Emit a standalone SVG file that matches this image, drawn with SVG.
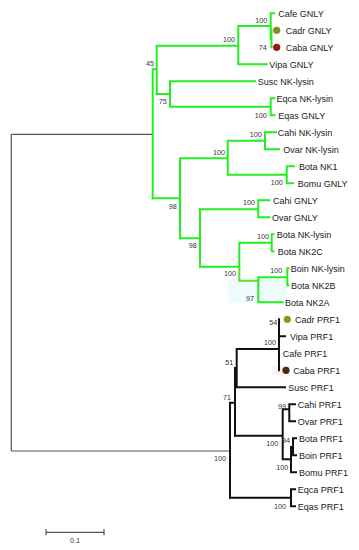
<svg xmlns="http://www.w3.org/2000/svg" width="359" height="550" viewBox="0 0 359 550">
<style>
.t{font-family:"Liberation Sans",Arial,sans-serif;font-size:9px;fill:#222}
.b{font-family:"Liberation Sans",Arial,sans-serif;font-size:7.2px;fill:#333;text-anchor:end}
.g{stroke:#22ee22;stroke-width:2;fill:none;stroke-linecap:square}
.k{stroke:#111;stroke-width:2;fill:none;stroke-linecap:square}
.r{stroke:#555;stroke-width:1.2;fill:none}
</style>
<rect width="359" height="550" fill="#fff"/>
<rect x="228" y="278" width="59" height="25" fill="#effcfc"/>
<rect x="272" y="366" width="18" height="9" fill="#fcf0f6"/>
<g id="connectors">
<path class="r" d="M11.3 134.3V451M11.3 134.3H152.7M11.3 451H230"/>
<path class="g" d="M152.7 69.3V198.3M152.7 69.3H156.7M156.7 45.7V94M156.7 45.7H238.3M238.3 26V64.3M238.3 26H270.7M270.7 13.3V38.8M271.5 30.3V47.3M270.7 13.3H274M238.3 64.3H266.7"/>
<path class="g" d="M156.7 94H170M170 81.3V106.8M170 81.3H255M170 106.8H270.7M270.7 98.3V115.3M270.7 98.3H274.5M270.7 115.3H274.5"/>
<path class="g" d="M152.7 198.3H180M180 158.3V238.3M180 158.3H227.7M227.7 140.8V174.8M227.7 140.8H265M265 132.3V149.3M265 132.3H276M265 149.3H279M227.7 174.8H286.7M286.7 166.3V183.3M286.7 166.3H294M286.7 183.3H293"/>
<path class="g" d="M180 238.3H200M200 209.3V266.7M200 209.3H258.3M258.3 200.3V217.3M258.3 200.3H269.3M258.3 217.3H269.3M200 266.7H239.3M239.3 242.7V268M239.3 242.7H271.7M271.7 234.3V251.3M271.7 234.3H273.5M271.7 251.3H273.5"/>
<path class="g" d="M239.3 268V280.7H258.3" style="stroke:#5ee02e"/>
<path class="g" d="M258.3 277.3V302.3M258.3 277.3H287.3M287.3 268.3V285.3M287.3 268.3H288.5M287.3 285.3H288.5M258.3 302.3H282.7"/>
<path class="k" d="M230 402.7V497.7M230 402.7H235M235 368V435.7M235 368H236.7M236.7 349V387.3M236.7 349H279M279 319.3V370.3M279 336.3H285M236.7 387.3H285"/>
<path class="k" d="M235 435.7H282.7M282.7 409.3V459.3M282.7 409.3H289.3M289.3 404.3V421.3M289.3 404.3H295M289.3 421.3H295M282.7 459.3H291M291 447V472.3M291 447H293M293 438.3V455.3M293 438.3H296M293 455.3H296M291 472.3H296"/>
<path class="k" d="M230 497.7H291M291 489.3V506.3M291 489.3H295M291 506.3H295"/>
</g>
<g id="support">
<text class="b" x="267.3" y="23.2">100</text>
<text class="b" x="266.7" y="49.8">74</text>
<text class="b" x="235" y="41.5">100</text>
<text class="b" x="154" y="65.8">45</text>
<text class="b" x="166.7" y="104.2">75</text>
<text class="b" x="266.7" y="117.5">100</text>
<text class="b" x="261.7" y="137.2">100</text>
<text class="b" x="225" y="154.5">100</text>
<text class="b" x="282.7" y="185.2">100</text>
<text class="b" x="176.7" y="208.5">98</text>
<text class="b" x="255" y="205.2">100</text>
<text class="b" x="196.7" y="248.2">98</text>
<text class="b" x="269" y="239.2">100</text>
<text class="b" x="236" y="275.8">100</text>
<text class="b" x="282.3" y="273.2">100</text>
<text class="b" x="254" y="300.8">97</text>
<text class="b" x="277.3" y="324.8">54</text>
<text class="b" x="276" y="345">100</text>
<text class="b" x="233.3" y="364.8">51</text>
<text class="b" x="231" y="399.5">71</text>
<text class="b" x="286" y="409.2">99</text>
<text class="b" x="278.3" y="445.8">100</text>
<text class="b" x="290" y="443.2">94</text>
<text class="b" x="288.3" y="469.8">100</text>
<text class="b" x="226" y="460.5">100</text>
<text class="b" x="286" y="509.2">100</text>
</g>
<g id="n-cafe-gnly"><text class="t" x="278.3" y="16.5">Cafe GNLY</text></g>
<g id="n-cadr-gnly"><circle cx="276.7" cy="30.3" r="3.6" fill="#8c8a1c"/><text class="t" x="285.7" y="33.5">Cadr GNLY</text></g>
<g id="n-caba-gnly"><circle cx="276.7" cy="47.3" r="3.6" fill="#a51414"/><text class="t" x="285.7" y="50.5">Caba GNLY</text></g>
<g id="n-vipa-gnly"><text class="t" x="269.3" y="67.5">Vipa GNLY</text></g>
<g id="n-susc-nk"><text class="t" x="257.7" y="84.5">Susc  NK-lysin</text></g>
<g id="n-eqca-nk"><text class="t" x="276.5" y="101.5">Eqca NK-lysin</text></g>
<g id="n-eqas-gnly"><text class="t" x="278.3" y="118.5">Eqas GNLY</text></g>
<g id="n-cahi-nk"><text class="t" x="277.7" y="135.5">Cahi NK-lysin</text></g>
<g id="n-ovar-nk"><text class="t" x="283.3" y="152.5">Ovar NK-lysin</text></g>
<g id="n-bota-nk1"><text class="t" x="299" y="169.5">Bota NK1</text></g>
<g id="n-bomu-gnly"><text class="t" x="297.7" y="186.5">Bomu GNLY</text></g>
<g id="n-cahi-gnly"><text class="t" x="273" y="203.5">Cahi GNLY</text></g>
<g id="n-ovar-gnly"><text class="t" x="272" y="220.5">Ovar GNLY</text></g>
<g id="n-bota-nk"><text class="t" x="276.7" y="237.5">Bota  NK-lysin</text></g>
<g id="n-bota-nk2c"><text class="t" x="277.7" y="254.5">Bota NK2C</text></g>
<g id="n-boin-nk"><text class="t" x="290.7" y="271.5">Boin NK-lysin</text></g>
<g id="n-bota-nk2b"><text class="t" x="291" y="288.5">Bota NK2B</text></g>
<g id="n-bota-nk2a"><text class="t" x="285" y="305.5">Bota NK2A</text></g>
<g id="n-cadr-prf1"><circle cx="287.3" cy="319.3" r="3.6" fill="#8a9a1e"/><text class="t" x="295" y="322.5">Cadr PRF1</text></g>
<g id="n-vipa-prf1"><text class="t" x="290" y="339.5">Vipa PRF1</text></g>
<g id="n-cafe-prf1"><text class="t" x="282.7" y="356.5">Cafe PRF1</text></g>
<g id="n-caba-prf1"><circle cx="286" cy="370.3" r="3.6" fill="#4b2a10"/><text class="t" x="293.3" y="373.5">Caba PRF1</text></g>
<g id="n-susc-prf1"><text class="t" x="288.3" y="390.5">Susc  PRF1</text></g>
<g id="n-cahi-prf1"><text class="t" x="297.7" y="407.5">Cahi PRF1</text></g>
<g id="n-ovar-prf1"><text class="t" x="297.7" y="424.5">Ovar PRF1</text></g>
<g id="n-bota-prf1"><text class="t" x="299" y="441.5">Bota PRF1</text></g>
<g id="n-boin-prf1"><text class="t" x="299" y="458.5">Boin PRF1</text></g>
<g id="n-bomu-prf1"><text class="t" x="299" y="475.5">Bomu PRF1</text></g>
<g id="n-eqca-prf1"><text class="t" x="297.7" y="492.5">Eqca PRF1</text></g>
<g id="n-eqas-prf1"><text class="t" x="297.7" y="509.5">Eqas PRF1</text></g>
<g id="scale">
<path class="r" d="M46 532.3H104M46 529.3V535.3M104 529.3V535.3"/>
<text class="b" x="75" y="543" style="text-anchor:middle">0.1</text>
</g>
</svg>
